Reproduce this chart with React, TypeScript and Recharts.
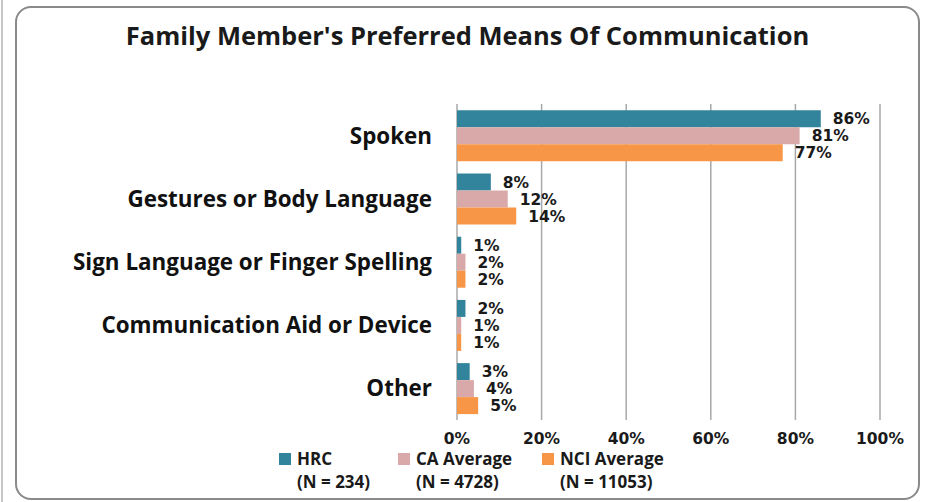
import React from 'react';
import { BarChart, Bar, XAxis, YAxis, CartesianGrid, LabelList, Legend } from 'recharts';

const categories = [
  'Spoken',
  'Gestures or Body Language',
  'Sign Language or Finger Spelling',
  'Communication Aid or Device',
  'Other',
];
const hrcValues = [86, 8, 1, 2, 3];
const caValues = [81, 12, 2, 1, 4];
const nciValues = [77, 14, 2, 1, 5];
const seriesNames = ['HRC', 'CA Average', 'NCI Average'];
const seriesCounts = ['(N = 234)', '(N = 4728)', '(N = 11053)'];
const seriesColors = ['#31849B', '#D9A9A9', '#F79646'];
const xTicks = [0, 20, 40, 60, 80, 100];
const boundaryTicks = [0, 1, 2, 3, 4, 5];

const data = categories.map((name, i) => ({
  name,
  hrc: hrcValues[i],
  ca: caValues[i],
  nci: nciValues[i],
}));
const seriesKeys = ['hrc', 'ca', 'nci'];

const pct = (v: any) => `${v}%`;
const labelStyle = { fontFamily: 'DejaVu Sans', fontWeight: 700, fontSize: 15.5, fill: '#1a1a1a' };
const legendItemWidths = [119, 144, 160];

const renderLegend = (props: any) => {
  const payload = [...(props.payload || [])].sort(
    (a: any, b: any) => seriesNames.indexOf(a.value) - seriesNames.indexOf(b.value)
  );
  return (
    <div style={{ display: 'flex', paddingLeft: 279, fontFamily: 'Open Sans', fontWeight: 700, fontSize: 17, color: '#1a1a1a' }}>
      {payload.map((entry: any, i: number) => {
        const idx = seriesNames.indexOf(entry.value);
        return (
          <div key={i} style={{ display: 'flex', alignItems: 'flex-start', width: legendItemWidths[idx], flex: 'none' }}>
            <div style={{ width: 12, height: 12, background: entry.color, marginTop: 3, marginRight: 6, flex: 'none' }} />
            <div style={{ lineHeight: '18px', whiteSpace: 'nowrap' }}>
              <div>{entry.value}</div>
              <div style={{ marginTop: 5 }}>{seriesCounts[idx]}</div>
            </div>
          </div>
        );
      })}
    </div>
  );
};

export default function App() {
  return (
    <div style={{ position: 'absolute', left: 0, top: 0, width: 925, height: 502, background: '#fff', overflow: 'hidden' }}>
      <div style={{ position: 'absolute', left: 1, top: 0, width: 2, height: 502, background: '#c6c6c6' }} />
      <div style={{ position: 'absolute', left: 15, top: 6, width: 905, height: 494, border: '2px solid #8a8a8a', borderRadius: 16, boxSizing: 'border-box' }} />
      <div style={{ position: 'absolute', left: 0, top: 18, width: 935, textAlign: 'center', fontFamily: 'Open Sans', fontWeight: 700, fontSize: 25.5, lineHeight: '34px', color: '#1a1a1a' }}>
        Family Member's Preferred Means Of Communication
      </div>
      <div style={{ position: 'absolute', left: 0, top: 0 }}>
        <BarChart
          width={925}
          height={502}
          data={data}
          layout="vertical"
          margin={{ top: 104, right: 45, bottom: 52, left: 0 }}
          barCategoryGap="10%"
          barGap={0}
        >
          <CartesianGrid horizontal={false} vertical stroke="#a8a8a8" strokeWidth={1.5} />
          <XAxis
            type="number"
            domain={[0, 100]}
            ticks={xTicks}
            tickFormatter={pct}
            axisLine={false}
            tickLine={false}
            tickSize={0}
            tickMargin={13}
            height={30}
            interval={0}
            tick={labelStyle}
          />
          <XAxis
            xAxisId="top"
            orientation="top"
            type="number"
            domain={[0, 100]}
            ticks={xTicks}
            height={0}
            tickSize={6}
            stroke="#a8a8a8"
            axisLine={{ stroke: '#a8a8a8', strokeWidth: 1.5 }}
            tickLine={{ stroke: '#a8a8a8', strokeWidth: 1.5 }}
            tick={() => <g />}
          />
          <YAxis
            type="category"
            dataKey="name"
            width={457}
            axisLine={false}
            tickLine={false}
            tickSize={0}
            tickMargin={25}
            interval={0}
            tick={{ fontFamily: 'Open Sans', fontWeight: 700, fontSize: 22.4, fill: '#111' }}
          />
          <YAxis
            yAxisId="bounds"
            type="number"
            domain={[0, 5]}
            ticks={boundaryTicks}
            width={0}
            tickSize={9}
            allowDataOverflow
            axisLine={{ stroke: '#9a9a9a', strokeWidth: 1.5 }}
            tickLine={{ stroke: '#9a9a9a', strokeWidth: 1.5 }}
            tick={() => <g />}
          />
          <Legend
            content={renderLegend}
            layout="horizontal"
            verticalAlign="middle"
            align="center"
            wrapperStyle={{ position: 'absolute', left: 0, top: 450, width: 925 }}
          />
          {seriesKeys.map((key, i) => (
            <Bar key={key} dataKey={key} name={seriesNames[i]} fill={seriesColors[i]} isAnimationActive={false}>
              <LabelList dataKey={key} position="right" offset={12} formatter={pct} style={labelStyle} />
            </Bar>
          ))}
        </BarChart>
      </div>
    </div>
  );
}
